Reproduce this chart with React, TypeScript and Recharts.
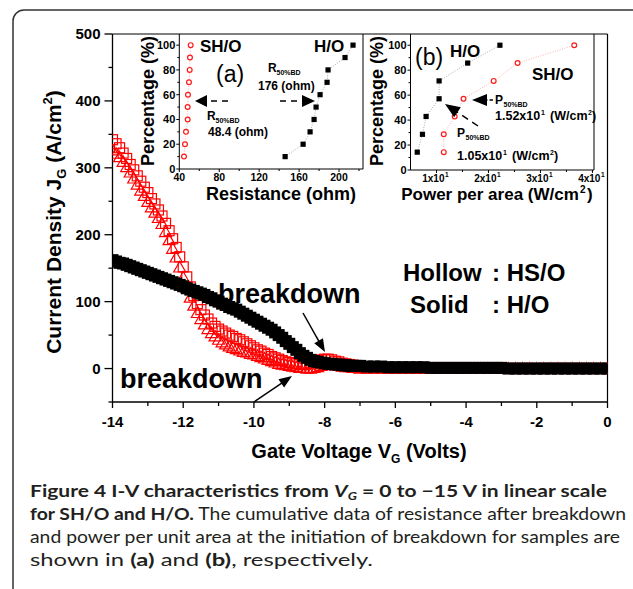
import React from 'react';
import { ScatterChart, Scatter, XAxis, YAxis, ReferenceLine } from 'recharts';

const FONT = '"Liberation Sans", Arial, Helvetica, sans-serif';
const CAPTION_FONT = 'Lato, "Open Sans", sans-serif';

// ---------- main I-V chart ----------
const gateVoltage = [
  -14.0, -13.9, -13.8, -13.7, -13.6, -13.5, -13.4, -13.3, -13.2, -13.1,
  -13.0, -12.9, -12.8, -12.7, -12.6, -12.5, -12.4, -12.3, -12.2, -12.1,
  -12.0, -11.9, -11.8, -11.7, -11.6, -11.5, -11.4, -11.3, -11.2, -11.1,
  -11.0, -10.9, -10.8, -10.7, -10.6, -10.5, -10.4, -10.3, -10.2, -10.1,
  -10.0, -9.9, -9.8, -9.7, -9.6, -9.5, -9.4, -9.3, -9.2, -9.1,
  -9.0, -8.9, -8.8, -8.7, -8.6, -8.5, -8.4, -8.3, -8.2, -8.1,
  -8.0, -7.9, -7.8, -7.7, -7.6, -7.5, -7.4, -7.3, -7.2, -7.1,
  -7.0,
  -6.8, -6.6, -6.4, -6.2, -6.0, -5.8, -5.6, -5.4, -5.2, -5.0,
  -4.8, -4.6, -4.4, -4.2, -4.0, -3.8, -3.6, -3.4, -3.2, -3.0,
  -2.8, -2.6, -2.4, -2.2, -2.0, -1.8, -1.6, -1.4, -1.2, -1.0,
  -0.8, -0.6, -0.4, -0.2, 0.0,
];
// Solid : H/O
const solidHO = [
  162, 160, 158, 157, 155, 153, 151, 149, 147, 145,
  143, 141, 139, 137, 135, 133, 131, 129, 127, 125,
  123, 120, 118, 116, 114, 112, 110, 107, 105, 102,
  100, 97, 95, 92, 90, 88, 85, 82, 79, 76,
  73, 70, 67, 64, 61, 58, 54, 50, 46, 41,
  37, 32, 28, 23, 19, 16, 13, 11, 10, 9,
  8, 7, 7, 6, 6, 5, 5, 4, 4, 4,
  4,
  3, 3, 3, 2, 2, 2, 2, 2, 2, 1,
  1, 1, 1, 1, 1, 1, 1, 1, 1, 1,
  0, 0, 0, 0, 0, 0, 0, 0, 0, 0,
  0, 0, 0, 0, 0,
];
// Hollow : SH/O (square markers)
const hollowSquares = [
  342, 336, 330, 322, 314, 305, 297, 288, 280, 271,
  263, 254, 246, 237, 228, 217, 206, 194, 181, 167,
  152, 137, 122, 109, 97, 88, 80, 74, 68, 63,
  59, 56, 53, 50, 48, 45, 43, 40, 37, 34,
  31, 28, 26, 23, 21, 18, 16, 14, 12, 10,
  9, 8, 7, 6, 6, 7, 8, 10, 12, 13,
  14, 14, 13, 11, 10, 8, 7, 6, 5, 4,
  3,
  2, 2, 2, 1, 1, 1, 1, 1, 1, 1,
  1, 1, 1, 1, 1, 1, 1, 1, 1, 1,
  0, 0, 0, 0, 0, 0, 0, 0, 0, 0,
  0, 0, 0, 0, 0,
];
// Hollow : SH/O (triangle markers)
const hollowTriangles = [
  326, 321, 316, 309, 301, 293, 284, 275, 266, 258,
  249, 241, 233, 225, 216, 204, 192, 179, 166, 151,
  136, 121, 106, 94, 83, 74, 66, 59, 53, 48,
  43, 39, 36, 33, 31, 29, 27, 25, 24, 22,
  21, 19, 17, 15, 13, 11, 9, 7, 6, 5,
  4, 3, 2, 1, 1, 0, 0, 1, 2, 4,
  5, 6, 6, 5, 4, 3, 2, 2, 1, 1,
  0,
  0, 0, 0, 0, 0, 0, 0, 0, 0, 0,
  0, 0, 0, 0, 0, 0, 0, 0, 0, 0,
  0, 0, 0, 0, 0, 0, 0, 0, 0, 0,
  0, 0, 0, 0, 0,
];
const mainYTicks = [-50, 0, 50, 100, 150, 200, 250, 300, 350, 400, 450, 500];
const mainYLabels = [0, 100, 200, 300, 400, 500];
const mainXTicks = [-14, -13, -12, -11, -10, -9, -8, -7, -6, -5, -4, -3, -2, -1, 0];
const mainXLabels = [-14, -12, -10, -8, -6, -4, -2, 0];

// ---------- inset (a): resistance ----------
const insetAPercent = [10, 20, 30, 40, 50, 60, 70, 80, 90, 100];
const resistanceSHO = [44.7, 45.7, 46.7, 48.4, 48.4, 48.7, 49.7, 50.4, 50.7, 51.4];
const resistanceHO = [146, 164, 171, 175, 177, 181, 188, 189, 206, 214];
const insetAXTicks = [40, 60, 80, 100, 120, 140, 160, 180, 200, 220];
const insetAXLabels = [40, 80, 120, 160, 200];
const insetYTicks = [0, 10, 20, 30, 40, 50, 60, 70, 80, 90, 100];
const insetYLabels = [0, 20, 40, 60, 80, 100];

// ---------- inset (b): power per area ----------
const insetBPercent = [14.3, 28.6, 42.9, 57.1, 71.4, 85.7, 100];
const powerHO = [6.3, 7.3, 8.0, 10.5, 10.5, 16.0, 22.2];
const powerSHO = [11.4, 11.4, 13.5, 15.2, 21.0, 25.6, 36.5];
const insetBXTicks = [10, 15, 20, 25, 30, 35, 40];
const insetBXLabels = [10, 20, 30, 40];

const zip = (xs: number[], ys: number[]) => xs.map((x, i) => ({ x, y: ys[i] }));

const mainHO = zip(gateVoltage, solidHO);
const mainSq = zip(gateVoltage, hollowSquares);
const mainTri = zip(gateVoltage, hollowTriangles);
const aSHO = zip(resistanceSHO, insetAPercent);
const aHO = zip(resistanceHO, insetAPercent);
const bSHO = zip(powerSHO, insetBPercent);
const bHO = zip(powerHO, insetBPercent);

// ---------- marker shapes ----------
const SolidSquare = (p: any) => (
  <rect x={p.cx - 6} y={p.cy - 6} width={12} height={12} fill="#000" />
);
const HollowSquare = (p: any) => (
  <rect x={p.cx - 5} y={p.cy - 5} width={10} height={10} fill="none" stroke="#ff0000" strokeWidth={1.2} />
);
const HollowTriangle = (p: any) => (
  <polygon
    points={`${p.cx},${p.cy - 6} ${p.cx - 6},${p.cy + 4.5} ${p.cx + 6},${p.cy + 4.5}`}
    fill="none"
    stroke="#ff0000"
    strokeWidth={1.2}
  />
);
const SmallCircle = (p: any) => (
  <circle cx={p.cx} cy={p.cy} r={2.4} fill="#fff" stroke="#ff1a1a" strokeWidth={1.2} />
);
const SmallSquare = (p: any) => (
  <rect x={p.cx - 2.6} y={p.cy - 2.6} width={5.2} height={5.2} fill="#000" />
);

// ---------- ticks ----------
const mainYTick = (p: any) => {
  const v = p.payload.value;
  const major = mainYLabels.includes(v);
  return (
    <g>
      <line x1={p.x} y1={p.y} x2={p.x - (major ? 8 : 4)} y2={p.y} stroke="#000" strokeWidth={1.3} />
      {major && (
        <text x={p.x - 12} y={p.y + 5} textAnchor="end" fontFamily={FONT} fontWeight="bold" fontSize={15} fill="#000">
          {v}
        </text>
      )}
    </g>
  );
};
const mainXTick = (p: any) => {
  const v = p.payload.value;
  const major = mainXLabels.includes(v);
  return (
    <g>
      <line x1={p.x} y1={p.y} x2={p.x} y2={p.y + (major ? 6 : 4)} stroke="#000" strokeWidth={1.3} />
      {major && (
        <text x={p.x} y={p.y + 25} textAnchor="middle" fontFamily={FONT} fontWeight="bold" fontSize={15} fill="#000">
          {v}
        </text>
      )}
    </g>
  );
};
const insetYTick = (p: any) => {
  const v = p.payload.value;
  const major = insetYLabels.includes(v);
  return (
    <g>
      <line x1={p.x} y1={p.y} x2={p.x - (major ? 3 : 2)} y2={p.y} stroke="#000" strokeWidth={1} />
      {major && (
        <text x={p.x - 4} y={p.y + 4} textAnchor="end" fontFamily={FONT} fontWeight="bold" fontSize={11} fill="#000">
          {v}
        </text>
      )}
    </g>
  );
};
const insetAXTick = (p: any) => {
  const v = p.payload.value;
  const major = insetAXLabels.includes(v);
  return (
    <g>
      <line x1={p.x} y1={p.y} x2={p.x} y2={p.y + (major ? 3 : 2)} stroke="#000" strokeWidth={1} />
      {major && (
        <text x={p.x} y={p.y + 12} textAnchor="middle" fontFamily={FONT} fontWeight="bold" fontSize={10.5} fill="#000">
          {v}
        </text>
      )}
    </g>
  );
};
const insetBXTick = (p: any) => {
  const v = p.payload.value;
  const major = insetBXLabels.includes(v);
  return (
    <g>
      <line x1={p.x} y1={p.y} x2={p.x} y2={p.y + (major ? 3 : 2)} stroke="#000" strokeWidth={1} />
      {major && (
        <g>
          <text x={p.x + 8} y={p.y + 12} textAnchor="end" fontFamily={FONT} fontWeight="bold" fontSize={10} fill="#000">
            {`${v / 10}x10`}
          </text>
          <text x={p.x + 8.5} y={p.y + 6.5} fontFamily={FONT} fontWeight="bold" fontSize={6.5} fill="#000">
            1
          </text>
        </g>
      )}
    </g>
  );
};

// ---------- annotation helpers ----------
const Arrow = ({ x1, y1, x2, y2, head = 13, half = 5, dash }: any) => {
  const dx = x2 - x1;
  const dy = y2 - y1;
  const len = Math.sqrt(dx * dx + dy * dy);
  const ux = dx / len;
  const uy = dy / len;
  const bx = x2 - ux * head;
  const by = y2 - uy * head;
  const px = -uy * half;
  const py = ux * half;
  return (
    <g>
      <line x1={x1} y1={y1} x2={bx + ux} y2={by + uy} stroke="#000" strokeWidth={1.5} strokeDasharray={dash} />
      <polygon points={`${x2},${y2} ${bx + px},${by + py} ${bx - px},${by - py}`} fill="#000" />
    </g>
  );
};

const T = (props: any) => <text fontFamily={FONT} fill="#000" {...props} />;

const Rsub = ({ x, y, letter }: any) => (
  <g>
    <T x={x} y={y} fontSize={12} fontWeight="bold">{letter}</T>
    <T x={x + 8.5} y={y + 3} fontSize={7} fontWeight="bold">50%BD</T>
  </g>
);

const PowerText = ({ x, y, value }: any) => (
  <g>
    <T x={x} y={y} fontSize={12.5} fontWeight="bold">{`${value}x10`}</T>
    <T x={x + 46} y={y - 5} fontSize={7} fontWeight="bold">1</T>
    <T x={x + 55} y={y} fontSize={12.5} fontWeight="bold">(W/cm</T>
    <T x={x + 93} y={y - 5} fontSize={7} fontWeight="bold">2</T>
    <T x={x + 97} y={y} fontSize={12.5} fontWeight="bold">)</T>
  </g>
);

export default function App() {
  const abs = (l: number, t: number): React.CSSProperties => ({ position: 'absolute', left: l, top: t });
  return (
    <div style={{ position: 'absolute', left: 0, top: 0, width: 633, height: 589, background: '#fff', overflow: 'hidden' }}>
      {/* main chart */}
      <div style={abs(0, 0)}>
        <ScatterChart width={633} height={589} margin={{ top: 34, right: 25.5, bottom: 147, left: 52.5 }}>
          <XAxis
            type="number"
            dataKey="x"
            domain={[-14, 0]}
            ticks={mainXTicks}
            interval={0}
            allowDataOverflow
            height={40}
            tickSize={0}
            tickMargin={0}
            tickLine={false}
            axisLine={{ stroke: '#000', strokeWidth: 1.3 }}
            tick={mainXTick}
          />
          <YAxis
            type="number"
            dataKey="y"
            domain={[-50, 500]}
            ticks={mainYTicks}
            interval={0}
            allowDataOverflow
            width={60}
            tickSize={0}
            tickMargin={0}
            tickLine={false}
            axisLine={{ stroke: '#000', strokeWidth: 1.3 }}
            tick={mainYTick}
          />
          <ReferenceLine y={500} stroke="#000" strokeWidth={1.2} />
          <ReferenceLine x={0} stroke="#000" strokeWidth={1.2} />
          <Scatter data={mainTri} shape={HollowTriangle} isAnimationActive={false} />
          <Scatter data={mainSq} shape={HollowSquare} isAnimationActive={false} />
          <Scatter data={mainHO} shape={SolidSquare} isAnimationActive={false} />
        </ScatterChart>
      </div>

      {/* inset (a) */}
      <div style={abs(120, 14)}>
        <ScatterChart width={250} height={200} margin={{ top: 20, right: 7, bottom: 15, left: 9.3 }}>
          <XAxis
            type="number"
            dataKey="x"
            domain={[40, 224]}
            ticks={insetAXTicks}
            interval={0}
            allowDataOverflow
            height={30}
            tickSize={0}
            tickMargin={0}
            tickLine={false}
            axisLine={{ stroke: '#000', strokeWidth: 1 }}
            tick={insetAXTick}
          />
          <YAxis
            type="number"
            dataKey="y"
            domain={[0, 109]}
            ticks={insetYTicks}
            interval={0}
            allowDataOverflow
            width={50}
            tickSize={0}
            tickMargin={0}
            tickLine={false}
            axisLine={{ stroke: '#000', strokeWidth: 1 }}
            tick={insetYTick}
          />
          <ReferenceLine x={224} stroke="#000" strokeWidth={1} />
          <Scatter
            data={aSHO}
            shape={SmallCircle}
            line={{ stroke: '#ff9a9a', strokeWidth: 0.8, strokeDasharray: '1 1.5' }}
            isAnimationActive={false}
          />
          <Scatter
            data={aHO}
            shape={SmallSquare}
            line={{ stroke: '#999', strokeWidth: 0.8, strokeDasharray: '1 1.5' }}
            isAnimationActive={false}
          />
        </ScatterChart>
      </div>

      {/* inset (b) */}
      <div style={abs(365, 14)}>
        <ScatterChart width={260} height={200} margin={{ top: 20, right: 31, bottom: 14, left: 5.5 }}>
          <XAxis
            type="number"
            dataKey="x"
            domain={[5, 40.3]}
            ticks={insetBXTicks}
            interval={0}
            allowDataOverflow
            height={30}
            tickSize={0}
            tickMargin={0}
            tickLine={false}
            axisLine={{ stroke: '#000', strokeWidth: 1 }}
            tick={insetBXTick}
          />
          <YAxis
            type="number"
            dataKey="y"
            domain={[0, 109]}
            ticks={insetYTicks}
            interval={0}
            allowDataOverflow
            width={40}
            tickSize={0}
            tickMargin={0}
            tickLine={false}
            axisLine={{ stroke: '#000', strokeWidth: 1 }}
            tick={insetYTick}
          />
          <ReferenceLine x={40.3} stroke="#000" strokeWidth={1} />
          <Scatter
            data={bSHO}
            shape={SmallCircle}
            line={{ stroke: '#ff9a9a', strokeWidth: 0.8, strokeDasharray: '1 1.5' }}
            isAnimationActive={false}
          />
          <Scatter
            data={bHO}
            shape={SmallSquare}
            line={{ stroke: '#999', strokeWidth: 0.8, strokeDasharray: '1 1.5' }}
            isAnimationActive={false}
          />
        </ScatterChart>
      </div>

      {/* annotations, titles, caption */}
      <svg width={633} height={589} style={{ position: 'absolute', left: 0, top: 0, pointerEvents: 'none' }}>
        <rect x={13} y={10} width={660} height={600} rx={11} ry={11} fill="none" stroke="#333" strokeWidth={1.5} />

        {/* main axis titles */}
        <T transform="translate(61,222) rotate(-90)" textAnchor="middle" fontSize={21} fontWeight="bold">
          Current Density J<tspan fontSize={13} dy={5}>G</tspan>
          <tspan dy={-5}> (A/cm</tspan>
          <tspan fontSize={13} dy={-9}>2</tspan>
          <tspan dy={9}>)</tspan>
        </T>
        <T x={359} y={458} textAnchor="middle" fontSize={20} fontWeight="bold">
          Gate Voltage V<tspan fontSize={12} dy={5}>G</tspan>
          <tspan dy={-5}> (Volts)</tspan>
        </T>

        {/* main annotations */}
        <T x={218} y={303} fontSize={27} fontWeight="bold">breakdown</T>
        <T x={120} y={388} fontSize={27} fontWeight="bold">breakdown</T>
        <Arrow x1={303} y1={313} x2={325} y2={352} />
        <Arrow x1={254} y1={402} x2={292} y2={376} />
        <T x={403} y={281} fontSize={24} fontWeight="bold">Hollow</T>
        <T x={492} y={281} fontSize={24} fontWeight="bold">: HS/O</T>
        <T x={410} y={313} fontSize={24} fontWeight="bold">Solid</T>
        <T x={492} y={313} fontSize={24} fontWeight="bold">: H/O</T>

        {/* inset (a) annotations */}
        <T transform="translate(154,101) rotate(-90)" textAnchor="middle" fontSize={18} fontWeight="bold">Percentage (%)</T>
        <T x={281} y={199.5} textAnchor="middle" fontSize={18} fontWeight="bold">Resistance (ohm)</T>
        <T x={200} y={52} fontSize={17} fontWeight="bold">SH/O</T>
        <T x={314} y={52} fontSize={17} fontWeight="bold">H/O</T>
        <T x={216} y={82} fontSize={23}>(a)</T>
        <Rsub x={268} y={72} letter="R" />
        <T x={258} y={90} fontSize={12} fontWeight="bold">176 (ohm)</T>
        <Arrow x1={280} y1={101} x2={315} y2={101} head={13} half={6} dash="6 5" />
        <Arrow x1={228} y1={101} x2={195} y2={101} head={12} half={6} dash="6 5" />
        <Rsub x={207} y={120} letter="R" />
        <T x={208} y={136} fontSize={12} fontWeight="bold">48.4 (ohm)</T>

        {/* inset (b) annotations */}
        <T transform="translate(383,101) rotate(-90)" textAnchor="middle" fontSize={18} fontWeight="bold">Percentage (%)</T>
        <T x={490} y={200} textAnchor="middle" fontSize={17} fontWeight="bold">Power per area (W/cm</T>
        <T x={580} y={193} fontSize={10} fontWeight="bold">2</T>
        <T x={587} y={200} fontSize={17} fontWeight="bold">)</T>
        <T x={415} y={65} fontSize={23}>(b)</T>
        <T x={450} y={57} fontSize={17} fontWeight="bold">H/O</T>
        <T x={532} y={80} fontSize={17} fontWeight="bold">SH/O</T>
        <Arrow x1={493} y1={100} x2={472} y2={100} head={15} half={6} />
        <line x1={487.5} y1={100} x2={489.5} y2={100} stroke="#fff" strokeWidth={2} />
        <Rsub x={495} y={104} letter="P" />
        <PowerText x={495} y={120} value="1.52" />
        <Arrow x1={478} y1={126} x2={445} y2={104} head={15} half={6} dash="7 5" />
        <Rsub x={457} y={137} letter="P" />
        <PowerText x={457} y={160} value="1.05" />

        {/* caption */}
        <text x={30} y={497} fontFamily={CAPTION_FONT} fontSize={17} fill="#231f20" textLength={577} lengthAdjust="spacingAndGlyphs">
          <tspan fontWeight="bold">Figure 4 I-V characteristics from </tspan>
          <tspan fontWeight="bold" fontStyle="italic">V</tspan>
          <tspan fontWeight="bold" fontStyle="italic" fontSize={11} dy={3}>G</tspan>
          <tspan fontWeight="bold" dy={-3}>{' = 0 to \u221215 V in linear scale'}</tspan>
        </text>
        <text x={30} y={520} fontFamily={CAPTION_FONT} fontSize={17} fill="#231f20" textLength={596} lengthAdjust="spacingAndGlyphs">
          <tspan fontWeight="bold">for SH/O and H/O.</tspan>
          <tspan>{' The cumulative data of resistance after breakdown'}</tspan>
        </text>
        <text x={30} y={543} fontFamily={CAPTION_FONT} fontSize={17} fill="#231f20" textLength={590} lengthAdjust="spacingAndGlyphs">
          and power per unit area at the initiation of breakdown for samples are
        </text>
        <text x={30} y={566} fontFamily={CAPTION_FONT} fontSize={17} fill="#231f20" textLength={343} lengthAdjust="spacingAndGlyphs">
          shown in <tspan fontWeight="bold">(a)</tspan> and <tspan fontWeight="bold">(b)</tspan>, respectively.
        </text>
      </svg>
    </div>
  );
}
